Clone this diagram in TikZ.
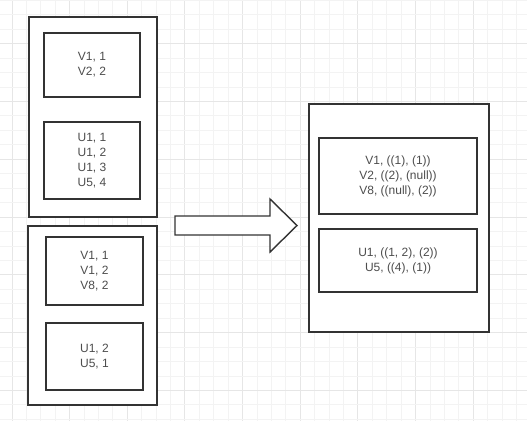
\documentclass[tikz,border=0pt]{standalone}
\usepackage{fontspec}
\setmainfont{Liberation Sans}
\definecolor{boxline}{HTML}{333333}
\definecolor{txt}{HTML}{4D4D4D}
\definecolor{gridminor}{HTML}{F3F3F3}
\definecolor{gridmajor}{HTML}{E6E6E6}
\begin{document}
\begin{tikzpicture}[x=1bp,y=-1bp,
  box/.style={draw=boxline, line width=1.4bp, fill=white, rectangle, inner sep=0pt, outer sep=0pt},
  lbl/.style={text=txt, align=center, font=\fontsize{12bp}{15bp}\selectfont},
  blockarrow/.style={draw=boxline, line width=1.4bp, fill=white, line join=miter}]
\useasboundingbox (0,0) rectangle (527,421);
\fill[white] (0,0) rectangle (527,421);
% grid
\foreach \k in {0,...,35}{
  \pgfmathtruncatemacro\m{mod(\k,4)}
  \ifnum\m=0 \def\gc{gridmajor}\else\def\gc{gridminor}\fi
  \draw[\gc, line width=1bp] ({12+14.415*\k},0) -- ({12+14.415*\k},421);
}
\foreach \k in {0,...,29}{
  \pgfmathtruncatemacro\m{mod(\k,4)}
  \ifnum\m=3 \def\gc{gridmajor}\else\def\gc{gridminor}\fi
  \draw[\gc, line width=1bp] (0,{0.35+14.45*\k}) -- (527,{0.35+14.45*\k});
}
% left group 1
\node[box, minimum width=128bp, minimum height=200bp] (g1) at (93,117) {};
\node[box, lbl, minimum width=96bp, minimum height=64bp] (g1a) at (92,65) {V1, 1\\V2, 2};
\node[box, lbl, minimum width=96bp, minimum height=77bp] (g1b) at (92,160.5) {U1, 1\\U1, 2\\U1, 3\\U5, 4};
% left group 2
\node[box, minimum width=129bp, minimum height=179bp] (g2) at (92.5,315.5) {};
\node[box, lbl, minimum width=97bp, minimum height=68bp] (g2a) at (94.5,271) {V1, 1\\V1, 2\\V8, 2};
\node[box, lbl, minimum width=97bp, minimum height=67bp] (g2b) at (94.5,356.5) {U1, 2\\U5, 1};
% right group
\node[box, minimum width=180bp, minimum height=228bp] (r) at (399,218) {};
\node[box, lbl, minimum width=158bp, minimum height=76bp] (ra) at (398,176) {V1, ((1), (1))\\V2, ((2), (null))\\V8, ((null), (2))};
\node[box, lbl, minimum width=158bp, minimum height=63bp] (rb) at (398,260.5) {U1, ((1, 2), (2))\\U5, ((4), (1))};
% block arrow
\draw[blockarrow] (175,216) -- (270,216) -- (270,199) -- (297,225.5) -- (270,252) -- (270,235) -- (175,235) -- cycle;
\end{tikzpicture}
\end{document}
